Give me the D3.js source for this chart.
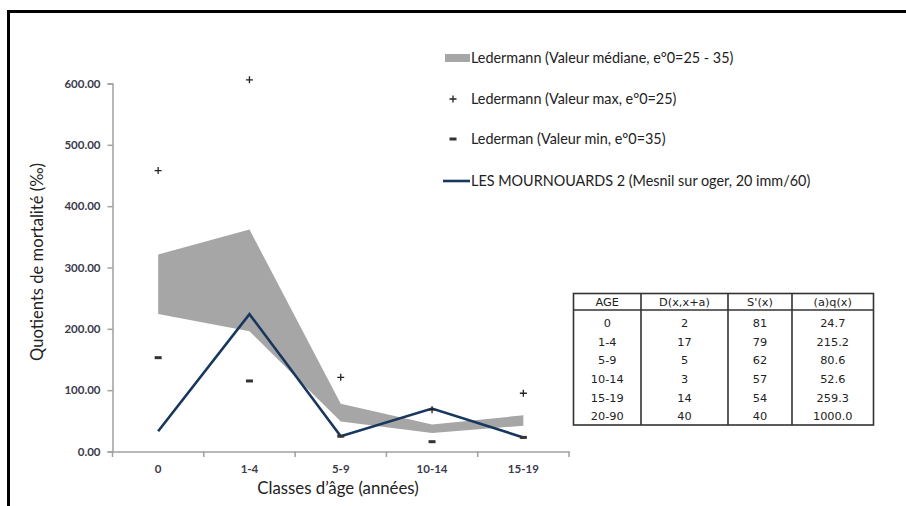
<!DOCTYPE html>
<html><head><meta charset="utf-8">
<script src="https://cdn.jsdelivr.net/npm/d3@7"></script>
<style>body{margin:0;background:#fff;overflow:hidden}</style>
</head><body><svg id="c" width="906" height="506"></svg>
<script>
const categories = ["0", "1-4", "5-9", "10-14", "15-19"];
const bandUpper = [321, 362, 78, 44, 59];
const bandLower = [224, 196, 49, 30, 42];
const maxValues = [458, 606, 121, 68, 95];
const minValues = [153, 115, 25, 16, 23];
const mournouards = [33, 224, 25, 70, 23];
const yTicks = [0, 100, 200, 300, 400, 500, 600];
const legendLabels = [
  "Ledermann (Valeur médiane, e°0=25 - 35)",
  "Ledermann (Valeur max, e°0=25)",
  "Lederman (Valeur min, e°0=35)",
  "LES MOURNOUARDS 2 (Mesnil sur oger, 20 imm/60)"
];
const tableHeader = ["AGE", "D(x,x+a)", "S'(x)", "(a)q(x)"];
const tableAge = ["0", "1-4", "5-9", "10-14", "15-19", "20-90"];
const tableD = ["2", "17", "5", "3", "14", "40"];
const tableS = ["81", "79", "62", "57", "54", "40"];
const tableQ = ["24.7", "215.2", "80.6", "52.6", "259.3", "1000.0"];

const svg = d3.select("#c");
const font = "Lato, 'Open Sans', sans-serif";

// frame
svg.append("line").attr("x1", 8.5).attr("x2", 906).attr("y1", 11.5).attr("y2", 11.5).attr("stroke", "#000").attr("stroke-width", 3);
svg.append("line").attr("x1", 8.5).attr("x2", 8.5).attr("y1", 10).attr("y2", 506).attr("stroke", "#000").attr("stroke-width", 3);

const x = d3.scaleBand().domain(categories).range([112.5, 569]);
const y = d3.scaleLinear().domain([0, 600]).range([451.5, 83.5]);
const cx = c => x(c) + x.bandwidth() / 2;

// band
const area = d3.area().x((d, i) => cx(categories[i])).y0(d => y(d[0])).y1(d => y(d[1]));
svg.append("path").datum(bandLower.map((v, i) => [v, bandUpper[i]]))
  .attr("d", area).attr("fill", "#a6a6a6");

// y axis
const yAxis = svg.append("g").attr("transform", "translate(112.5,0)")
  .call(d3.axisLeft(y).tickValues(yTicks).tickSize(5).tickPadding(7).tickFormat(d => d.toFixed(2)));
yAxis.select(".domain").attr("stroke", "#a0a0a0").attr("stroke-width", 1.5);
yAxis.selectAll(".tick line").attr("stroke", "#a0a0a0").attr("stroke-width", 1.5);
yAxis.selectAll("text").attr("font-family", font).attr("font-size", 11.5).attr("font-weight", 700).attr("fill", "#3a3a4a");

// x axis
const xAxis = svg.append("g").attr("transform", "translate(0,451.5)")
  .call(d3.axisBottom(x).tickSize(0).tickPadding(13));
xAxis.select(".domain").attr("stroke", "#a0a0a0").attr("stroke-width", 1.5);
xAxis.selectAll("text").attr("font-family", font).attr("font-size", 11.5).attr("font-weight", 700).attr("fill", "#3a3a4a");
const bounds = categories.map(c => x(c)).concat([x.range()[1]]);
svg.append("g").selectAll("line").data(bounds).join("line")
  .attr("x1", d => d).attr("x2", d => d).attr("y1", 451.5).attr("y2", 457)
  .attr("stroke", "#a0a0a0").attr("stroke-width", 1.5);

// axis titles
svg.append("text").attr("transform", "translate(43,262) rotate(-90)").attr("text-anchor", "middle")
  .attr("font-family", font).attr("font-size", 16.6).attr("fill", "#222").text("Quotients de mortalité (‰)");
svg.append("text").attr("x", 338).attr("y", 494).attr("text-anchor", "middle")
  .attr("font-family", font).attr("font-size", 16.8).attr("fill", "#222").text("Classes d’âge (années)");

// line
svg.append("path").datum(mournouards)
  .attr("d", d3.line().x((d, i) => cx(categories[i])).y(d => y(d)))
  .attr("fill", "none").attr("stroke", "#17375e").attr("stroke-width", 2.6);

// markers
const plus = (px, py) => `M${px - 3.5},${py}H${px + 3.5}M${px},${py - 3.5}V${py + 3.5}`;
svg.append("g").selectAll("path").data(maxValues).join("path")
  .attr("d", (d, i) => plus(cx(categories[i]), y(d)))
  .attr("stroke", "#222").attr("stroke-width", 1.3).attr("fill", "none");
svg.append("g").selectAll("rect").data(minValues).join("rect")
  .attr("x", (d, i) => cx(categories[i]) - 3.5).attr("y", d => y(d) - 1.5)
  .attr("width", 7).attr("height", 3).attr("fill", "#333");

// legend
const lg = svg.append("g").attr("font-family", font).attr("font-size", 14.4).attr("fill", "#222");
const ly = [58, 99, 139, 181];
lg.append("rect").attr("x", 445).attr("y", 54).attr("width", 25).attr("height", 8).attr("fill", "#a6a6a6");
lg.append("path").attr("d", plus(453, ly[1])).attr("stroke", "#222").attr("stroke-width", 1.3);
lg.append("rect").attr("x", 449.5).attr("y", ly[2] - 1.5).attr("width", 7).attr("height", 3).attr("fill", "#333");
lg.append("line").attr("x1", 443).attr("x2", 470).attr("y1", ly[3]).attr("y2", ly[3]).attr("stroke", "#17375e").attr("stroke-width", 2.6);
lg.selectAll("text").data(legendLabels).join("text")
  .attr("x", 471).attr("y", (d, i) => ly[i]).attr("dy", "0.35em").text(d => d);

// table
const tx0 = 573.5, tx1 = 873.5, ty0 = 293.5, tyH = 310, ty1 = 425;
const colX = [tx0, 641, 728, 792, tx1];
const tg = svg.append("g");
tg.append("rect").attr("x", tx0).attr("y", ty0).attr("width", tx1 - tx0).attr("height", ty1 - ty0)
  .attr("fill", "#fff").attr("stroke", "#333").attr("stroke-width", 1.6);
tg.append("line").attr("x1", tx0).attr("x2", tx1).attr("y1", tyH).attr("y2", tyH).attr("stroke", "#333").attr("stroke-width", 1.6);
tg.selectAll("line.col").data(colX.slice(1, 4)).join("line").attr("class", "col")
  .attr("x1", d => d).attr("x2", d => d).attr("y1", ty0).attr("y2", ty1).attr("stroke", "#333").attr("stroke-width", 1.6);
const tfont = "'DejaVu Sans', Verdana, sans-serif";
const colMid = i => (colX[i] + colX[i + 1]) / 2;
tg.selectAll("text.h").data(tableHeader).join("text").attr("class", "h")
  .attr("x", (d, i) => colMid(i)).attr("y", 302).attr("dy", "0.35em").attr("text-anchor", "middle")
  .attr("font-family", tfont).attr("font-size", 11.3).attr("fill", "#222").text(d => d);
const rows = tableAge.map((a, i) => [a, tableD[i], tableS[i], tableQ[i]]);
rows.forEach((r, ri) => {
  tg.append("g").selectAll("text").data(r).join("text")
    .attr("x", (d, i) => colMid(i)).attr("y", 323.3 + ri * 18.6).attr("dy", "0.35em").attr("text-anchor", "middle")
    .attr("font-family", tfont).attr("font-size", 11.3).attr("fill", "#222").text(d => d);
});
</script></body></html>
